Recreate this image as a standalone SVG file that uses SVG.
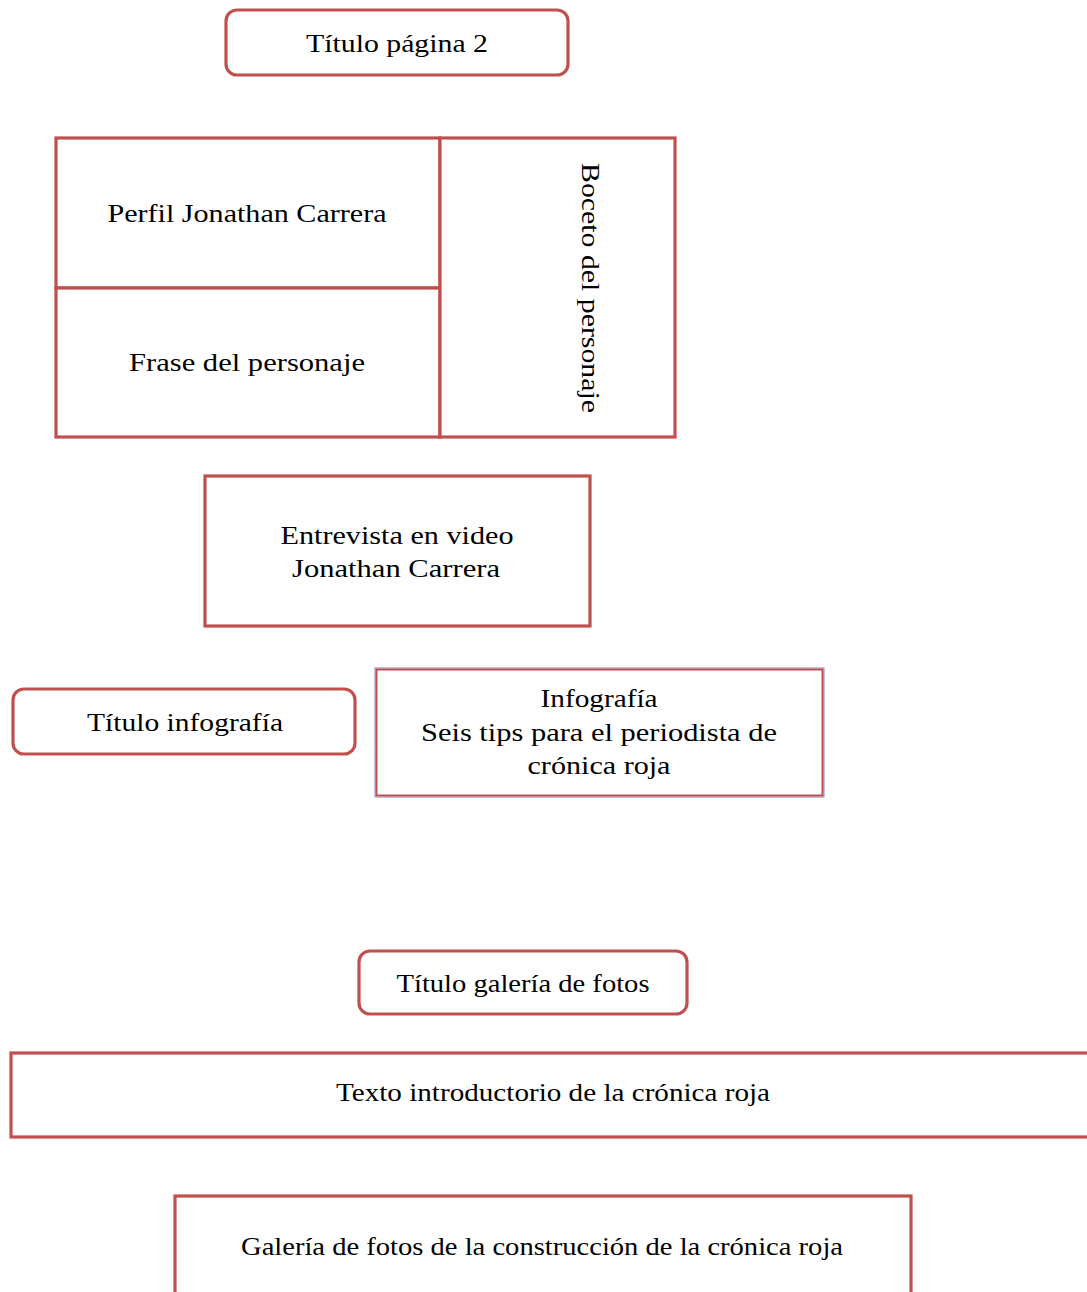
<svg xmlns="http://www.w3.org/2000/svg" width="1087" height="1292" viewBox="0 0 1087 1292">
<style>
.b{fill:#fff;stroke:#c0504d;stroke-width:3.2}
.t{font-family:"Liberation Serif","DejaVu Serif",serif;font-size:26px;fill:#000;text-anchor:middle}
</style>
<rect width="1087" height="1292" fill="#fff"/>
<g id="titulo-pagina">
<rect class="b" x="226" y="10" width="342" height="65" rx="11"/>
<text class="t" x="397" y="52" textLength="182" lengthAdjust="spacingAndGlyphs">Título página 2</text>
</g>
<g id="perfil">
<rect class="b" x="56" y="138" width="384" height="150"/>
<text class="t" x="247" y="222" textLength="279" lengthAdjust="spacingAndGlyphs">Perfil Jonathan Carrera</text>
</g>
<g id="frase">
<rect class="b" x="56" y="288" width="384" height="149"/>
<text class="t" x="247" y="371" textLength="236" lengthAdjust="spacingAndGlyphs">Frase del personaje</text>
</g>
<g id="boceto">
<rect class="b" x="440" y="138" width="235" height="299"/>
<text class="t" transform="translate(582,288) rotate(90)" x="0" y="0" textLength="250" lengthAdjust="spacingAndGlyphs">Boceto del personaje</text>
</g>
<g id="entrevista">
<rect class="b" x="205" y="476" width="385" height="150"/>
<text class="t" x="397" y="544" textLength="233" lengthAdjust="spacingAndGlyphs">Entrevista en video</text>
<text class="t" x="396" y="577" textLength="208" lengthAdjust="spacingAndGlyphs">Jonathan Carrera</text>
</g>
<g id="titulo-infografia">
<rect class="b" x="13" y="689" width="342" height="65" rx="11"/>
<text class="t" x="185" y="731" textLength="196" lengthAdjust="spacingAndGlyphs">Título infografía</text>
</g>
<g id="infografia">
<rect x="375" y="668" width="449" height="129" fill="#fff" stroke="#8c86c0" stroke-width="1"/>
<rect x="376.5" y="669.5" width="446" height="126" fill="none" stroke="#c0504d" stroke-width="2"/>
<text class="t" x="599" y="707" textLength="117" lengthAdjust="spacingAndGlyphs">Infografía</text>
<text class="t" x="599" y="741" textLength="356" lengthAdjust="spacingAndGlyphs">Seis tips para el periodista de</text>
<text class="t" x="599" y="774" textLength="143" lengthAdjust="spacingAndGlyphs">crónica roja</text>
</g>
<g id="titulo-galeria">
<rect class="b" x="359" y="951" width="328" height="63" rx="11"/>
<text class="t" x="523" y="992" textLength="253" lengthAdjust="spacingAndGlyphs">Título galería de fotos</text>
</g>
<g id="texto-introductorio">
<rect class="b" x="11" y="1053" width="1090" height="84"/>
<text class="t" x="553" y="1101" textLength="434" lengthAdjust="spacingAndGlyphs">Texto introductorio de la crónica roja</text>
</g>
<g id="galeria">
<rect class="b" x="175" y="1196" width="736" height="110"/>
<text class="t" x="542" y="1255" textLength="602" lengthAdjust="spacingAndGlyphs">Galería de fotos de la construcción de la crónica roja</text>
</g>
<g id="connectors"></g>
</svg>
